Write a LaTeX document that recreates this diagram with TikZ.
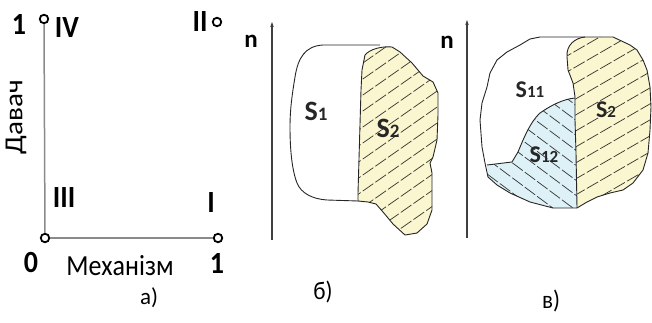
\documentclass[tikz,border=0pt]{standalone}
\usepackage{fontspec}
\setmainfont{Carlito}
\usetikzlibrary{arrows.meta}
\definecolor{axisgray}{HTML}{8A8A8A}
\definecolor{yfill}{HTML}{FAF6CF}
\definecolor{bfill}{HTML}{DDF1F6}
\newcommand\fs[1]{\fontsize{#1}{#1}\selectfont}
\newcommand\slab[3]{{\fs{#1}S}{\fs{#2}#3}}
\tikzset{
  pt/.style={circle,draw=black,fill=white,line width=1.8pt,inner sep=0pt,minimum size=8.5pt},
  axis/.style={draw=axisgray,line width=1.5pt},
  num/.style={font=\fs{28}\bfseries,inner sep=0pt,yscale=1.1},
  lbl/.style={font=\fs{23},inner sep=0pt},
  biglbl/.style={font=\fs{26},inner sep=0pt,yscale=1.12},
  slbl/.style={inner sep=0pt,font=\bfseries,text=black!85},
  outline/.style={draw=black!85,line width=0.9pt},
  hatch/.style={draw=black!80,line width=0.7pt,dash pattern=on 13pt off 2.5pt},
  naxis/.style={draw=black!75,line width=1.1pt,-{Stealth[length=5pt,width=3.5pt]}},
}
\begin{document}
\begin{tikzpicture}[x=1pt,y=-1pt]
\useasboundingbox (0,0) rectangle (652,323);
% ---------- panel a ----------
\node[pt] (pIV) at (44,19) {};
\node[pt] (pII) at (217,22) {};
\node[pt] (pO) at (45,238) {};
\node[pt] (pI) at (218,238) {};
\draw[axis] (pO) -- (pIV);
\draw[axis] (pO) -- (pI);
\node[num] (one1) at (19,25) {1};
\node[num] (tIV) at (67,28) {IV};
\node[num] (tII) at (200,22) {II};
\node[num] (tIII) at (64,198) {III};
\node[num] (tI) at (211,203) {I};
\node[num] (zero) at (31,263) {0};
\node[num] (one2) at (217,263) {1};
\node[biglbl] (mech) at (120,266) {Механізм};
\node[biglbl,rotate=90] (dav) at (16,117) {Давач};
\node[lbl] (la) at (149,298) {а)};
% ---------- panel b ----------
\coordinate (nb0) at (272,240);
\coordinate (nb1) at (272,22);
\draw[naxis] (nb0) -- (nb1);
\node[font=\fs{25}\bfseries,inner sep=0pt] (nb) at (251,41) {n};
% S2 region
\def\bSii{(365,55) .. controls (370,49) and (382,46) .. (392,47)
  -- (400,52) -- (412,63) -- (423,76) -- (433,82) -- (438,93) -- (438,115)
  -- (437,140) -- (433,157) -- (430,163) -- (432,173) -- (432,190) -- (432,210)
  -- (427,224) -- (417,233) -- (405,235) -- (393,224) -- (383,212) -- (376,204)
  -- (368,202) -- (358,201) -- (358,193) -- (361,90) -- (362,70) -- cycle}
\path[fill=yfill] \bSii;
\begin{scope}
\clip \bSii;
\foreach \y in {72,88,...,330} \draw[hatch] (350,\y) -- ++(100,-70);
\end{scope}
\draw[outline] \bSii;
% S1 outline
\draw[outline] (380,45) -- (323,45) .. controls (305,46) and (298,58) .. (295,77)
  .. controls (292,95) and (290,110) .. (290,127)
  .. controls (290,150) and (292,170) .. (297,183)
  .. controls (301,193) and (312,199) .. (327,200) -- (358,201);
\node[slbl] (s1) at (316,111) {\slab{28}{19}{1}};
\node[slbl] (s2b) at (388,128) {\slab{28}{19}{2}};
\node[lbl,yscale=1.1] (lb) at (323,292) {б)};
% ---------- panel c ----------
\coordinate (nc0) at (467,238);
\coordinate (nc1) at (467,20);
\draw[naxis] (nc0) -- (nc1);
\node[font=\fs{25}\bfseries,inner sep=0pt] (nc) at (447,42) {n};
% S2 region (yellow)
\def\cSii{(585,37) -- (613,37) -- (630,45) -- (637,50) -- (643,60) -- (647,70)
  -- (650,87) -- (651,107) -- (650,130) -- (648,153) -- (643,170) -- (633,183)
  -- (623,190) -- (610,193) -- (597,197) -- (587,202) -- (577,208)
  -- (576,153) -- (575,120) -- (575,97) -- (573,83) -- (568,70) -- (567,57)
  .. controls (566,45) and (575,38) .. (585,37) -- cycle}
\path[fill=yfill] \cSii;
\begin{scope}
\clip \cSii;
\foreach \y in {60,76,...,330} \draw[hatch] (560,\y) -- ++(95,-55);
\end{scope}
% S12 region (blue)
\def\cSxii{(575,98) .. controls (563,99) and (550,106) .. (540,113)
  .. controls (530,122) and (523,140) .. (518,152) -- (512,162) -- (487,165)
  -- (488,177) -- (497,185) -- (510,193) -- (530,202) -- (553,208) -- (577,208)
  -- (576,153) -- (575,120) -- cycle}
\path[fill=bfill] \cSxii;
\begin{scope}
\clip \cSxii;
\foreach \y in {0,15,...,220} \draw[hatch] (475,\y) -- ++(110,82);
\end{scope}
% outlines
\draw[outline] (540,37) -- (613,37) -- (630,45) -- (637,50) -- (643,60) -- (647,70)
  -- (650,87) -- (651,107) -- (650,130) -- (648,153) -- (643,170) -- (633,183)
  -- (623,190) -- (610,193) -- (597,197) -- (587,202) -- (577,208)
  -- (553,208) -- (530,202) -- (510,193) -- (497,185) -- (488,177) -- (485,163)
  -- (482,147) -- (480,120) -- (482,103) -- (487,87) -- (490,73) -- (497,60)
  -- (507,52) -- (520,45) -- (530,39) -- cycle;
\draw[outline] (577,208) -- (576,153) -- (575,120) -- (575,97) -- (573,83)
  -- (568,70) -- (567,57) .. controls (566,45) and (575,38) .. (585,37);
\draw[outline] (575,98) .. controls (563,99) and (550,106) .. (540,113)
  .. controls (530,122) and (523,140) .. (518,152) -- (512,162) -- (487,165);
\node[slbl] (s11) at (530,90) {\slab{24}{17}{11}};
\node[slbl] (s2c) at (606,110) {\slab{24}{17}{2}};
\node[slbl] (s12) at (544,155) {\slab{24}{17}{12}};
\node[lbl,yscale=1.1] (lc) at (551,301) {в)};
\end{tikzpicture}
\end{document}
